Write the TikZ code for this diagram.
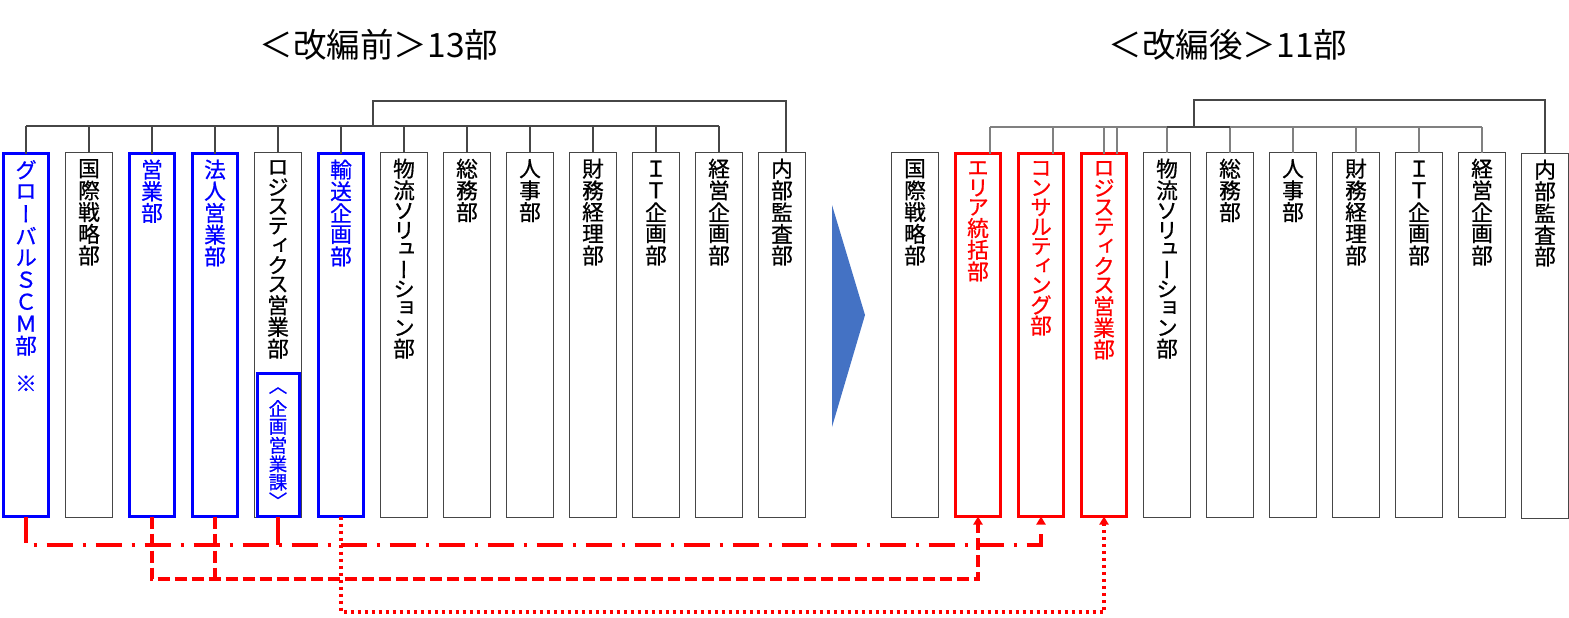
\documentclass[tikz,border=0pt]{standalone}
\usepackage{fontspec}
\usetikzlibrary{arrows.meta}
\newfontfamily\jpv[RawFeature=+vert,FakeBold=0.7]{Noto Sans CJK JP}
\newfontfamily\jph{Noto Sans CJK JP}
\definecolor{arrowblue}{RGB}{68,114,196}
\definecolor{linegray}{RGB}{70,70,70}
\ExplSyntaxOn
\dim_new:N \l__vt_pitch_dim
\NewDocumentCommand \vtext { O{21.7pt} O{19.5pt} m }
  {
    \vbox:n
      {
        \offinterlineskip
        \tl_map_inline:nn {#3}
          {
            \int_compare:nNnTF { `##1 } < { "4E00 }
              { \dim_set:Nn \l__vt_pitch_dim {#2} }
              { \dim_set:Nn \l__vt_pitch_dim {#1} }
            \hbox_to_wd:nn { 30pt }
              { \hfil \vbox_to_ht:nn { \l__vt_pitch_dim } { \vfil \hbox:n {##1} \vfil } \hfil }
          }
      }
  }
\ExplSyntaxOff
\begin{document}
\begin{tikzpicture}[x=1pt,y=-1pt,
  kbox/.style={draw=linegray, line width=1.3pt, minimum width=46.7pt, minimum height=364.7pt, inner sep=0pt, outer sep=0pt},
  bbox/.style={draw=blue, line width=3pt, minimum width=45pt, minimum height=363pt, inner sep=0pt, outer sep=0pt},
  rbox/.style={draw=red, line width=3pt, minimum width=45pt, minimum height=363pt, inner sep=0pt, outer sep=0pt},
  vtxt/.style={anchor=north, inner sep=0pt, yshift=-5pt, font=\jpv\fontsize{21.7}{22}\selectfont},
  title/.style={font=\jph\fontsize{33.5}{34}\selectfont, inner sep=0pt},
  org/.style={draw=linegray, line width=1.3pt},
  orgr/.style={draw=gray, line width=1.2pt},
  tip/.style={-{Triangle[width=9pt,length=8pt]}},
  dd/.style={draw=red, line width=3.4pt, dash pattern=on 26pt off 10pt on 3pt off 10pt},
  ds/.style={draw=red, line width=3.4pt, dash pattern=on 12pt off 5pt},
  dt/.style={draw=red, line width=3.4pt, dash pattern=on 3pt off 4pt},
]
\useasboundingbox (0,0) rectangle (1569,618);

% titles
\node[title] (T1) at (379,45) {＜改編前＞13部};
\node[title] (T2) at (1228,45) {＜改編後＞11部};

% left boxes
\node[bbox] (L1) at (26,335) {};
\node[kbox] (L2) at (89,335) {};
\node[bbox] (L3) at (152,335) {};
\node[bbox] (L4) at (215,335) {};
\node[kbox] (L5) at (278,335) {};
\node[bbox, minimum width=42pt, minimum height=143pt, anchor=south] (L5s) at ([yshift=0.5pt]L5.south) {};
\node[bbox] (L6) at (341,335) {};
\node[kbox] (L7) at (404,335) {};
\node[kbox] (L8) at (467,335) {};
\node[kbox] (L9) at (530,335) {};
\node[kbox] (L10) at (593,335) {};
\node[kbox] (L11) at (656,335) {};
\node[kbox] (L12) at (719,335) {};
\node[kbox] (L13) at (782,335) {};

\node[vtxt, text=blue] (L1t) at (L1.north) {\vbox{\offinterlineskip\vtext[22pt][22pt]{グローバルＳＣＭ部}\kern 17pt\vtext{※}}};
\node[vtxt] (L2t) at (L2.north) {\vtext{国際戦略部}};
\node[vtxt, text=blue] (L3t) at (L3.north) {\vtext{営業部}};
\node[vtxt, text=blue] (L4t) at (L4.north) {\vtext{法人営業部}};
\node[vtxt] (L5t) at (L5.north) {\vtext{ロジスティクス営業部}};
\node[inner sep=0pt, text=blue, font=\jpv\fontsize{18.5}{19}\selectfont] (L5st) at (L5s.center) {\vtext[18.5pt][17pt]{〈企画営業課〉}};
\node[vtxt, text=blue] (L6t) at (L6.north) {\vtext{輸送企画部}};
\node[vtxt] (L7t) at (L7.north) {\vtext{物流ソリューション部}};
\node[vtxt] (L8t) at (L8.north) {\vtext{総務部}};
\node[vtxt] (L9t) at (L9.north) {\vtext{人事部}};
\node[vtxt] (L10t) at (L10.north) {\vtext{財務経理部}};
\node[vtxt] (L11t) at (L11.north) {\vtext{ＩＴ企画部}};
\node[vtxt] (L12t) at (L12.north) {\vtext{経営企画部}};
\node[vtxt] (L13t) at (L13.north) {\vtext{内部監査部}};

% right boxes
\node[kbox] (R1) at (915,335) {};
\node[rbox] (R2) at (978,335) {};
\node[rbox] (R3) at (1041,335) {};
\node[rbox] (R4) at (1104,335) {};
\node[kbox] (R5) at (1167,335) {};
\node[kbox] (R6) at (1230,335) {};
\node[kbox] (R7) at (1293,335) {};
\node[kbox] (R8) at (1356,335) {};
\node[kbox] (R9) at (1419,335) {};
\node[kbox] (R10) at (1482,335) {};
\node[kbox] (R11) at (1545,336) {};

\node[vtxt] (R1t) at (R1.north) {\vtext{国際戦略部}};
\node[vtxt, text=red] (R2t) at (R2.north) {\vtext{エリア統括部}};
\node[vtxt, text=red] (R3t) at (R3.north) {\vtext{コンサルティング部}};
\node[vtxt, text=red] (R4t) at (R4.north) {\vtext{ロジスティクス営業部}};
\node[vtxt] (R5t) at (R5.north) {\vtext{物流ソリューション部}};
\node[vtxt] (R6t) at (R6.north) {\vtext{総務部}};
\node[vtxt] (R7t) at (R7.north) {\vtext{人事部}};
\node[vtxt] (R8t) at (R8.north) {\vtext{財務経理部}};
\node[vtxt] (R9t) at (R9.north) {\vtext{ＩＴ企画部}};
\node[vtxt] (R10t) at (R10.north) {\vtext{経営企画部}};
\node[vtxt] (R11t) at (R11.north) {\vtext{内部監査部}};

% left organisation lines
\coordinate (lbus) at (0,126);
\coordinate (lup) at (373,101);
\draw[org] (L1.north |- lbus) -- (L12.north |- lbus);
\foreach \i in {1,...,12} { \draw[org] (L\i.north) -- (L\i.north |- lbus); }
\draw[org] (lup |- lbus) -- (lup) -| ([xshift=4pt]L13.north);

% right organisation lines
\coordinate (rbus) at (0,127);
\coordinate (rup) at (1194,100);
\draw[orgr] ([xshift=12pt]R2.north |- rbus) -- (R10.north |- rbus);
\draw[orgr] ([xshift=12pt]R2.north) -- ([xshift=12pt]R2.north |- rbus);
\draw[orgr] ([xshift=12pt]R3.north) -- ([xshift=12pt]R3.north |- rbus);
\draw[orgr] (R4.north) -- (R4.north |- rbus);
\draw[orgr] ([xshift=13pt]R4.north) -- ([xshift=13pt]R4.north |- rbus);
\foreach \i in {5,...,10} { \draw[orgr] (R\i.north) -- (R\i.north |- rbus); }
\draw[org] (R5.north |- rbus) -- (R6.north |- rbus);
\draw[org] (rup |- rbus) -- (rup) -| (R11.north);

% big arrow
\coordinate (A1) at (832,205);
\coordinate (A2) at (865,315);
\coordinate (A3) at (832,427);
\fill[arrowblue] (A1) -- (A2) -- (A3) -- cycle;

% transfer connectors
\coordinate (ddy) at (0,545);
\coordinate (dsy) at (0,579);
\coordinate (dty) at (0,612);
\draw[dd, tip] (L1.south) -- (L1.south |- ddy) -| (R3.south);
\draw[draw=red, line width=3.4pt] (L5s.south) -- (L5s.south |- ddy);
\draw[ds, tip] (L3.south) -- (L3.south |- dsy) -| (R2.south);
\draw[ds] (L4.south) -- (L4.south |- dsy);
\draw[dt, tip] (L6.south) -- (L6.south |- dty) -| (R4.south);
\end{tikzpicture}
\end{document}
